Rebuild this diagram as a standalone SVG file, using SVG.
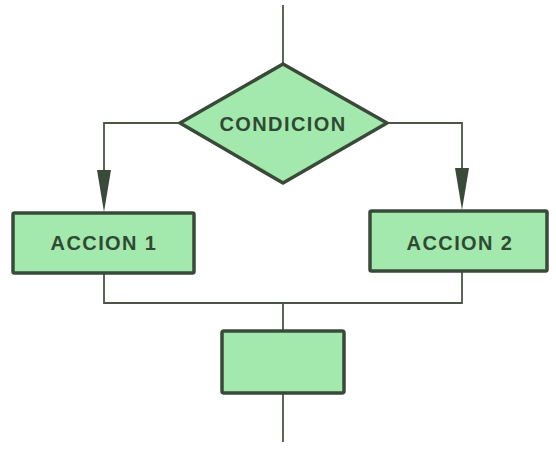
<svg xmlns="http://www.w3.org/2000/svg" width="556" height="452" viewBox="0 0 556 452">
<style>
.shape{fill:#a3e8ad;stroke:#3a4a39;stroke-width:3.5;stroke-linejoin:round}
.line{fill:none;stroke:#4a5548;stroke-width:1.8}
.lbl{font-family:"Liberation Sans",Arial,sans-serif;font-weight:bold;font-size:20px;fill:#2f4a33;text-anchor:middle;dominant-baseline:central;letter-spacing:1.4px}
</style>
<defs>
<marker id="arr" markerUnits="userSpaceOnUse" markerWidth="14" markerHeight="42" refX="7" refY="41" orient="auto-start-reverse" viewBox="0 0 14 42">
<path d="M0,0 L14,0 L7,42 Z" fill="#3a4a39"/>
</marker>
</defs>
<rect width="556" height="452" fill="#ffffff"/>
<g id="connectors">
<line class="line" x1="283" y1="5" x2="283" y2="64"/>
<polyline class="line" points="180,123 104,123 104,170"/>
<path d="M97,170 L111,170 L104,212 Z" fill="#3a4a39"/>
<polyline class="line" points="387,123 462,123 462,168"/>
<path d="M455,168 L469,168 L462,210 Z" fill="#3a4a39"/>
<polyline class="line" points="104,273 104,303 462,303 462,271"/>
<line class="line" x1="283" y1="303" x2="283" y2="331"/>
<line class="line" x1="283" y1="393" x2="283" y2="442"/>
</g>
<g id="condicion">
<polygon class="shape" points="283,64 387,123 283,183 180,123"/>
<text class="lbl" x="283" y="124">CONDICION</text>
</g>
<g id="accion1">
<rect class="shape" x="13" y="213" width="181" height="60" rx="1.5"/>
<text class="lbl" x="104" y="243">ACCION 1</text>
</g>
<g id="accion2">
<rect class="shape" x="370" y="211" width="177" height="60" rx="1.5"/>
<text class="lbl" x="460" y="243">ACCION 2</text>
</g>
<g id="bloque">
<rect class="shape" x="222" y="331" width="122" height="62" rx="2"/>
</g>
</svg>
